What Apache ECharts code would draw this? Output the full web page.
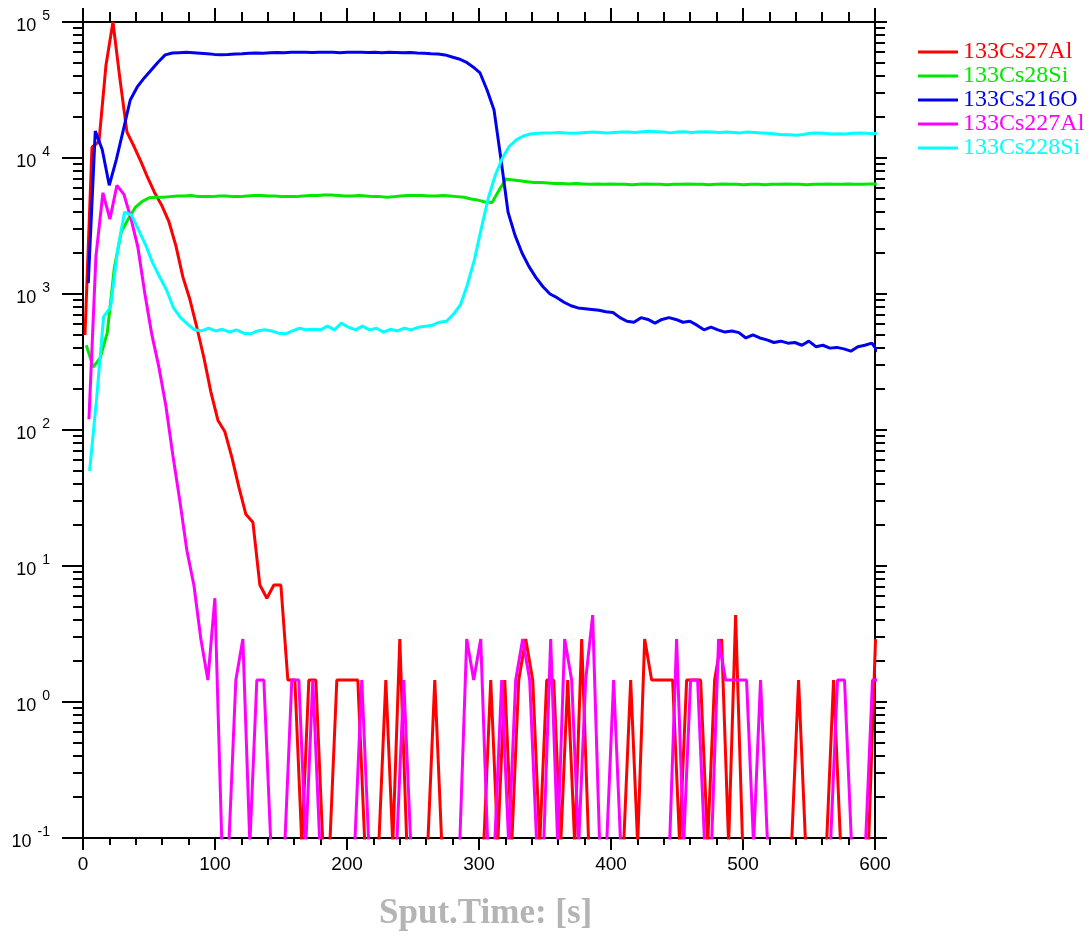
<!DOCTYPE html>
<html><head><meta charset="utf-8">
<script src="https://cdn.jsdelivr.net/npm/echarts@6/dist/echarts.min.js"></script>
<style>html,body{margin:0;padding:0;background:#fff}#c{width:1091px;height:942px}</style>
</head><body><div id="c"></div>
<script>
// ---- data (cycle times in s, counts/s) ----
const TIME = [
  0, 5.3, 10.6, 15.9, 21.2, 26.5, 31.8, 37.1, 42.4, 47.7,
  53, 58.3, 63.6, 68.9, 74.2, 79.5, 84.8, 90.1, 95.4, 100.7,
  106, 111.3, 116.6, 121.9, 127.2, 132.5, 137.8, 143.1, 148.4, 153.7,
  159, 164.3, 169.6, 174.9, 180.2, 185.5, 190.8, 196.1, 201.4, 206.7,
  212, 217.3, 222.6, 227.9, 233.2, 238.5, 243.8, 249.1, 254.4, 259.7,
  265, 270.3, 275.6, 280.9, 286.2, 291.5, 296.8, 302.1, 307.4, 312.7,
  318, 323.3, 328.6, 333.9, 339.2, 344.5, 349.8, 355.1, 360.4, 365.7,
  371, 376.3, 381.6, 386.9, 392.2, 397.5, 402.8, 408.1, 413.4, 418.7,
  424, 429.3, 434.6, 439.9, 445.2, 450.5, 455.8, 461.1, 466.4, 471.7,
  477, 482.3, 487.6, 492.9, 498.2, 503.5, 508.8, 514.1, 519.4, 524.7,
  530, 535.3, 540.6, 545.9, 551.2, 556.5, 561.8, 567.1, 572.4, 577.7,
  583, 588.3, 593.6, 598.9
];
const SERIES_NAMES = ['133Cs27Al', '133Cs28Si', '133Cs216O', '133Cs227Al', '133Cs228Si'];
const TIME_SHIFT = [1.5, 2.5, 4.0, 4.5, 5.0];

const CS_AL27 = [
  500, 12000, 13200, 48000, 100000, 38000, 15500, 12200, 9400, 7100,
  5500, 4450, 3400, 2260, 1330, 910, 565, 340, 190, 118,
  97, 63, 38, 24, 21, 7.25, 5.8, 7.25, 7.25, 1.45,
  1.45, 0, 1.45, 1.45, 0, 0, 1.45, 1.45, 1.45, 1.45,
  0, 0, 0, 1.45, 0, 2.9, 0, 0, 0, 0,
  1.45, 0, 0, 0, 0, 0, 0, 0, 1.45, 0,
  1.45, 0, 1.45, 2.9, 1.45, 0, 1.45, 1.45, 0, 1.45,
  0, 2.9, 0, 0, 0, 0, 0, 0, 1.45, 0,
  2.9, 1.45, 1.45, 1.45, 1.45, 0, 1.45, 1.45, 1.45, 0,
  1.45, 2.9, 0, 4.35, 0, 0, 0, 0, 0, 0,
  0, 0, 1.45, 0, 0, 0, 0, 1.45, 0, 0,
  0, 0, 0, 2.9
];
const CS_SI28 = [
  420, 290, 340, 520, 1550, 2860, 3560, 4330, 4800, 5100,
  5150, 5150, 5200, 5250, 5250, 5300, 5200, 5200, 5200, 5250,
  5250, 5200, 5200, 5250, 5300, 5300, 5250, 5250, 5200, 5200,
  5200, 5250, 5300, 5300, 5350, 5350, 5300, 5250, 5250, 5300,
  5250, 5200, 5200, 5150, 5200, 5250, 5300, 5300, 5300, 5250,
  5250, 5300, 5250, 5200, 5150, 5000, 4900, 4750, 4700, 5800,
  7000, 6900, 6800, 6700, 6600, 6600, 6550, 6500, 6500, 6450,
  6500, 6450, 6400, 6450, 6400, 6450, 6400, 6400, 6350, 6400,
  6450, 6400, 6400, 6350, 6400, 6400, 6450, 6400, 6400, 6350,
  6400, 6450, 6400, 6400, 6350, 6400, 6400, 6350, 6400, 6400,
  6450, 6400, 6400, 6350, 6400, 6400, 6450, 6400, 6400, 6450,
  6400, 6400, 6450, 6450
];
const CS2_O16 = [
  1200, 15800, 11500, 6300, 9700, 16000, 26700, 33300, 38800, 44300,
  50800, 57300, 59200, 59500, 59800, 59500, 59000, 58500, 57800, 57500,
  57800, 58200, 58500, 59000, 59200, 59000, 59300, 59600, 59500, 59800,
  60000, 59800, 59600, 59800, 60000, 59800, 59500, 59800, 60000, 59800,
  59600, 59800, 59500, 59800, 59600, 59400, 59600, 59200, 59000, 58500,
  58200, 57300, 55300, 53500, 50800, 46700, 42200, 31600, 22500, 9700,
  4000, 2700, 2000, 1590, 1320, 1130, 1000, 940, 870, 820,
  790, 780, 770, 760, 740, 730, 670, 630, 620, 670,
  650, 610, 650, 670, 650, 620, 630, 590, 545, 570,
  545, 525, 535, 520, 475, 500, 475, 460, 440, 450,
  435, 440, 420, 450, 410, 420, 400, 405, 395, 380,
  410, 420, 435, 370
];
const CS2_AL27 = [
  120, 1900, 5550, 3550, 6300, 5400, 3600, 2200, 1000, 500,
  290, 150, 65, 30, 13, 7.25, 2.9, 1.45, 5.8, 0,
  0, 1.45, 2.9, 0, 1.45, 1.45, 0, 0, 0, 1.45,
  1.45, 0, 1.45, 0, 0, 0, 0, 0, 0, 1.45,
  0, 0, 0, 0, 0, 1.45, 0, 0, 0, 0,
  0, 0, 0, 0, 2.9, 1.45, 2.9, 0, 0, 1.45,
  0, 1.45, 2.9, 1.45, 0, 0, 2.9, 0, 2.9, 1.45,
  0, 1.45, 4.35, 0, 0, 1.45, 0, 0, 0, 0,
  0, 0, 0, 0, 2.9, 0, 1.45, 1.45, 0, 0,
  2.9, 1.45, 1.45, 1.45, 1.45, 0, 1.45, 0, 0, 0,
  0, 0, 0, 0, 0, 0, 0, 1.45, 1.45, 0,
  0, 0, 1.45, 1.45
];
const CS2_SI28 = [
  50, 170, 680, 800, 2100, 4000, 3800, 2960, 2300, 1700,
  1340, 1070, 790, 670, 600, 545, 535, 560, 535, 550,
  525, 545, 515, 510, 535, 545, 535, 515, 510, 535,
  560, 545, 550, 545, 580, 545, 610, 570, 545, 580,
  545, 560, 525, 550, 535, 560, 545, 570, 580, 590,
  620, 630, 710, 830, 1170, 1780, 3050, 5100, 7500, 10000,
  12200, 13600, 14500, 15000, 15200, 15300, 15300, 15400, 15300, 15200,
  15300, 15400, 15500, 15400, 15300, 15400, 15500, 15500, 15400, 15600,
  15700, 15600, 15500, 15300, 15500, 15600, 15400, 15500, 15600, 15500,
  15400, 15500, 15400, 15300, 15500, 15400, 15300, 15200, 15000, 14800,
  14800, 14700, 14900, 15200, 15300, 15200, 15000, 15100, 15000, 15200,
  15300, 15200, 15100, 15300
];
const SERIES_VALUES = [CS_AL27, CS_SI28, CS2_O16, CS2_AL27, CS2_SI28];

const X_MIN = 0, X_MAX = 600, X_STEP = 100;
const Y_DECADES = [-1, 0, 1, 2, 3, 4, 5];
const Y_MINOR_MULT = [2, 3, 4, 5, 6, 7, 8, 9];
const ZERO_FLOOR = 0.09; // zero counts drawn just below the axis floor (log axis cannot hold 0)

// ---- styles ----
const COLORS = ['#ff0000', '#00e800', '#0000f0', '#ff00ff', '#00ffff'];
const INK = '#000';

const yMajor = Y_DECADES.map(e => Math.pow(10, e));
const yMinor = [];
Y_DECADES.slice(0, -1).forEach(e => Y_MINOR_MULT.forEach(m => yMinor.push(m * Math.pow(10, e))));
const yMin = yMajor[0], yMax = yMajor[yMajor.length - 1];

function buildData(vals, shift) {
  const n = Math.min(vals.length, TIME.length);
  const out = [];
  for (let k = 0; k < n; k++) {
    const v = vals[k];
    out.push([TIME[k] + shift, v > 0 ? v : ZERO_FLOOR]);
  }
  return out;
}

const series = SERIES_NAMES.map((name, i) => ({
  name, type: 'line', data: buildData(SERIES_VALUES[i], TIME_SHIFT[i]),
  xAxisIndex: 0, yAxisIndex: 0,
  showSymbol: false, symbol: 'none', clip: true,
  lineStyle: { color: COLORS[i], width: 3 },
  itemStyle: { color: COLORS[i] },
  emphasis: { disabled: true },
  animation: false
}));

function xAxisDef(pos, showLabel, tickLen, minorLen) {
  return {
    type: 'value', position: pos, min: X_MIN, max: X_MAX, interval: X_STEP,
    axisLine: { show: true, onZero: false, lineStyle: { color: INK, width: 2 } },
    axisTick: { show: true, inside: false, length: tickLen, lineStyle: { color: INK, width: 2 } },
    minorTick: { show: true, splitNumber: 5, length: minorLen, lineStyle: { color: INK, width: 2 } },
    axisLabel: { show: showLabel, margin: 17, color: INK, fontFamily: 'Liberation Sans', fontSize: 19 },
    splitLine: { show: false }, minorSplitLine: { show: false }
  };
}
function yAxisDef(pos, ticks, tickLen, showLine, showLabel) {
  return {
    type: 'log', logBase: 10, position: pos, min: yMin, max: yMax,
    axisLine: { show: showLine, onZero: false, lineStyle: { color: INK, width: 2 } },
    axisTick: { show: true, inside: false, length: tickLen, customValues: ticks, lineStyle: { color: INK, width: 2 } },
    minorTick: { show: false },
    axisLabel: {
      show: showLabel, customValues: ticks, margin: 33, align: 'right',
      formatter: v => '{b|10}{e|' + Math.round(Math.log10(v)) + '}',
      rich: {
        b: { fontFamily: 'Liberation Sans', fontSize: 18, lineHeight: 18, color: INK, padding: [8, 0, 0, 0] },
        e: { fontFamily: 'Liberation Sans', fontSize: 14, lineHeight: 14, color: INK, padding: [0, 0, 12, 6] }
      }
    },
    splitLine: { show: false }
  };
}

const option = {
  animation: false,
  backgroundColor: '#fff',
  title: {
    text: 'Sput.Time: [s]', left: 379, top: 896, padding: 0,
    textStyle: { fontFamily: 'Liberation Serif', fontWeight: 'bold', fontSize: 35, color: '#b4b4b4' }
  },
  legend: {
    orient: 'vertical', left: 918, top: 40, padding: 0,
    itemWidth: 40, itemHeight: 3, itemGap: 0, icon: 'rect',
    selectedMode: false,
    textStyle: { fontFamily: 'Liberation Serif', fontSize: 24, lineHeight: 20 },
    data: SERIES_NAMES.map((n, i) => ({ name: n, textStyle: { color: COLORS[i] } }))
  },
  grid: { left: 83, top: 22, width: 792, height: 816, containLabel: false },
  xAxis: [
    xAxisDef('bottom', true, 12, 7),
    xAxisDef('top', false, 14, 10)
  ],
  yAxis: [
    yAxisDef('left', yMajor, 21, true, true),
    yAxisDef('left', yMinor, 10, false, false),
    yAxisDef('right', yMajor, 12, true, false),
    yAxisDef('right', yMinor, 10, false, false)
  ],
  series
};

const chart = echarts.init(document.getElementById('c'), null, { renderer: 'canvas' });
chart.setOption(option);
</script>
</body></html>
